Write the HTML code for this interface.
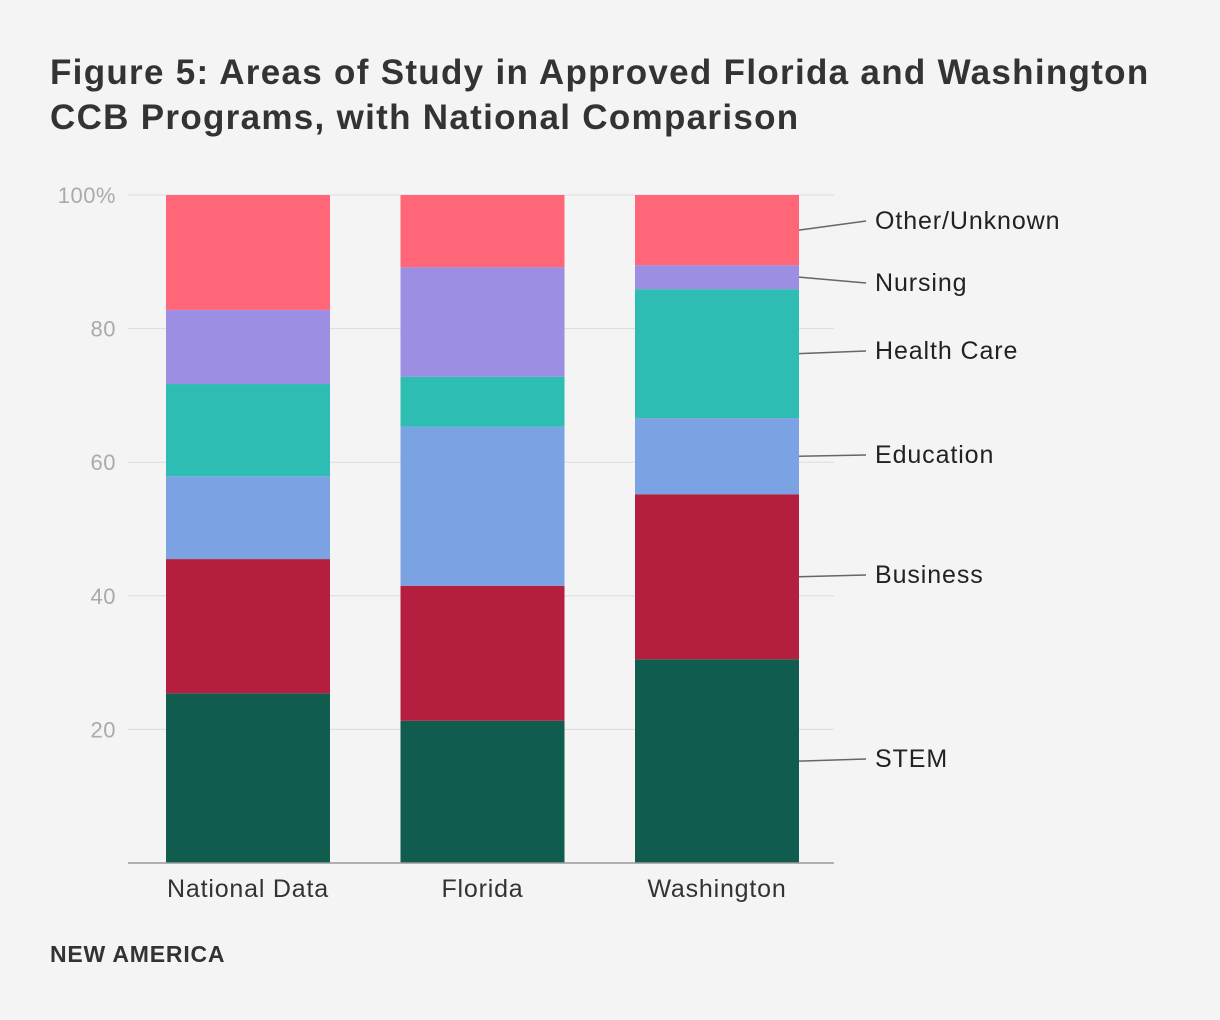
<!DOCTYPE html>
<html><head><meta charset="utf-8"><style>
body{margin:0;background:#f4f4f4;width:1220px;height:1020px;overflow:hidden;font-family:"Liberation Sans",sans-serif}
h1{position:absolute;left:50px;top:50px;margin:0;font-size:35px;line-height:45px;font-weight:bold;color:#333;letter-spacing:1.3px;white-space:nowrap}
#brand{position:absolute;left:50px;top:941px;font-size:23px;font-weight:bold;color:#333;letter-spacing:0.8px}
svg{position:absolute;left:0;top:0}
</style></head><body>
<h1>Figure 5: Areas of Study in Approved Florida and Washington<br>CCB Programs, with National Comparison</h1>
<div id="brand">NEW AMERICA</div>
<svg id="chart" width="1220" height="1020"></svg>
<script>
const categories=["National Data","Florida","Washington"];
const seriesNames=["STEM","Business","Education","Health Care","Nursing","Other/Unknown"];
const stem=[25.4,21.3,30.5];
const business=[20.1,20.2,24.7];
const education=[12.4,23.8,11.4];
const healthCare=[13.8,7.5,19.3];
const nursing=[11.1,16.4,3.6];
const other=[17.2,10.8,10.5];
const yTicks=[20,40,60,80,100];
const yTickLabels=["20","40","60","80","100%"];
const colors=["#105c4e","#b41f40","#7ba3e3","#2ebdb2","#9b8ee3","#ff6677"];
const labelY=[759,575,455,351,283,221];
const series=[stem,business,education,healthCare,nursing,other];
const NS="http://www.w3.org/2000/svg";
const svg=document.getElementById('chart');
const x0=128,x1=834,y0=863,y1=195;
const y=v=>y0-(v/100)*(y0-y1);
const band=234.5, bw=164;
const bx=i=>x0+38+band*i;
function mk(t,a){const e=document.createElementNS(NS,t);for(const k in a)e.setAttribute(k,a[k]);svg.appendChild(e);return e;}
yTicks.forEach((t,i)=>{
 const g=mk('line',{x1:x0,x2:x1,y1:y(t),y2:y(t),stroke:'#dcdcdc','stroke-width':1});
 
 
 const tx=mk('text',{x:116,y:y(t)+8,'text-anchor':'end','font-size':22,fill:'#aaa','letter-spacing':0.5});
 tx.textContent=yTickLabels[i];
 
 
});
categories.forEach((c,i)=>{
 let acc=0;
 series.forEach((s,j)=>{
  const r=mk('rect',{x:bx(i),y:y(acc+s[i]),width:bw,height:y(acc)-y(acc+s[i]),fill:colors[j]});
  
  
  acc+=s[i];
 });
 const t=mk('text',{x:bx(i)+bw/2,y:897,'text-anchor':'middle','font-size':25,fill:'#333','letter-spacing':0.8});
 t.textContent=c;
 
 
});
const ax=mk('line',{x1:x0,x2:x1,y1:y0,y2:y0,stroke:'#999','stroke-width':1.5});


let acc=0;const li=categories.length-1;
series.forEach((s,j)=>{
 const mid=y(acc+s[li]/2);acc+=s[li];
 const l=mk('line',{x1:bx(li)+bw,y1:mid,x2:866,y2:labelY[j],stroke:'#666','stroke-width':1.5});
 
 
 const t=mk('text',{x:875,y:labelY[j]+8,'font-size':25,fill:'#222','letter-spacing':0.9});
 t.textContent=seriesNames[j];
 
 
});
</script>
</body></html>
